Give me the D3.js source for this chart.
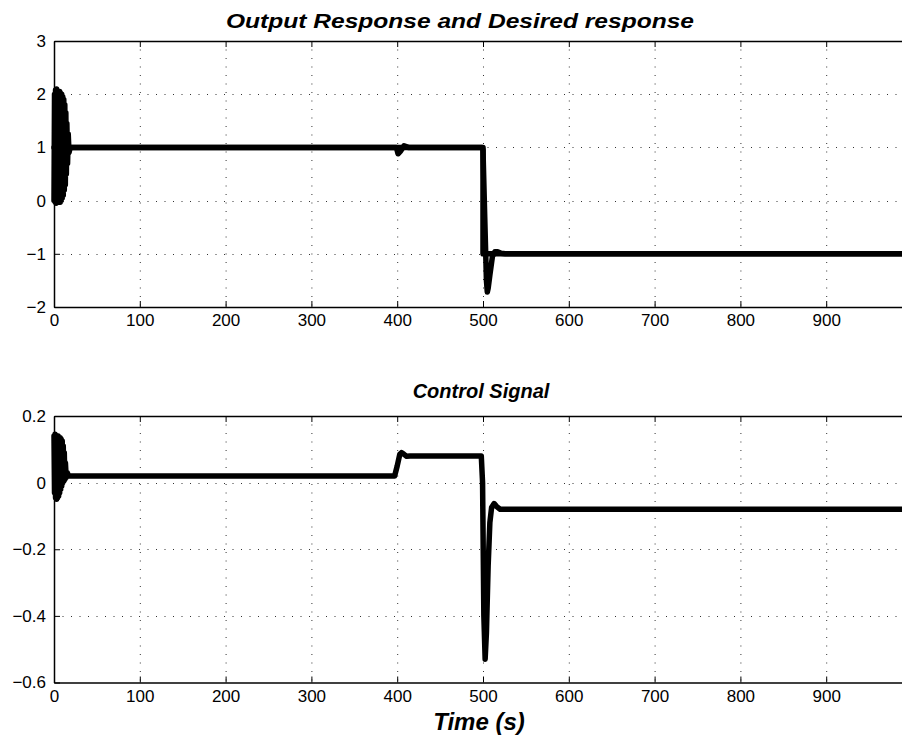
<!DOCTYPE html>
<html>
<head>
<meta charset="utf-8">
<script src="https://cdn.jsdelivr.net/npm/d3@7"></script>
<style>
  body { margin: 0; background: #fff; }
  svg { display: block; }
  text { font-family: Helvetica, "Liberation Sans", Arial, sans-serif; fill: #000; }
</style>
</head>
<body>
<script>
// ---- data ----
var timeTicks = [0, 100, 200, 300, 400, 500, 600, 700, 800, 900, 1000];
var outputTicks = [-2, -1, 0, 1, 2, 3];
var controlTicks = [-0.6, -0.4, -0.2, 0, 0.2];

// desired (reference) square step
var desiredT = [0, 500, 500, 1000];
var desiredY = [1, 1, -1, -1];

// plant output
var outputT = [0, 0.6, 1.2, 1.8, 2.4, 3.0, 3.6, 4.2, 4.8, 5.4, 6.0, 6.6, 7.2, 7.8, 8.4, 9.0,
  9.6, 10.2, 10.8, 11.4, 12.0, 12.6, 13.2, 13.8, 14.4, 15, 15.8, 16.6, 17.5, 19,
  399, 401, 404, 408, 413, 420,
  499, 500, 502, 504, 505, 506, 508, 511, 514, 517, 521, 526, 1000];
var outputY = [0, 2.0, -0.02, 2.08, -0.05, 2.1, 0.0, 2.06, -0.03, 2.05, 0.0, 2.05, -0.03, 2.02,
  0.0, 2.0, 0.05, 1.95, 0.1, 1.9, 0.2, 1.8, 0.3, 1.65, 0.5, 1.45, 0.7, 1.25, 0.9, 1.0,
  1.0, 0.88, 0.93, 1.03, 1.0, 1.0,
  1.0, 0.95, -0.3, -1.5, -1.72, -1.65, -1.4, -1.05, -0.96, -0.96, -0.99, -1.0, -1.0];

// control signal
var controlT = [0, 0.6, 1.2, 1.8, 2.4, 3.0, 3.6, 4.2, 4.8, 5.4, 6.0, 6.6, 7.2, 7.8, 8.4, 9.0,
  9.6, 10.2, 10.8, 11.4, 12.0, 12.6, 13.3, 14.2, 15.5, 17,
  397, 400, 403, 405, 408, 411, 415,
  498, 499.5, 501, 502.5, 504, 506, 508, 510, 513, 516, 520, 1000];
var controlY = [0.14, -0.03, 0.145, -0.045, 0.14, -0.05, 0.14, -0.045, 0.14, -0.04, 0.135,
  -0.03, 0.135, -0.02, 0.13, -0.01, 0.125, 0.0, 0.11, 0.005, 0.09, 0.01, 0.06, 0.015, 0.03, 0.02,
  0.02, 0.05, 0.085, 0.09, 0.085, 0.079, 0.08,
  0.08, 0.0, -0.4, -0.53, -0.45, -0.25, -0.12, -0.075, -0.063, -0.072, -0.08, -0.08];

var W = 902, H = 742;
var left = 54, right = 912;

var svg = d3.select('body').append('svg')
  .attr('width', W)
  .attr('height', H);

var x = d3.scaleLinear().domain([0, 1000]).range([left, right]);

function zip(ts, vs) {
  return ts.map(function(t, i) { return [t, vs[i]]; });
}

/**
 * Draws one MATLAB-style axes box: dotted grid, inward ticks, thick black traces
 */
function drawPanel(cfg) {
  var y = d3.scaleLinear().domain(cfg.domain).range([cfg.bottom, cfg.top]);
  var g = svg.append('g').attr('class', 'panel');

  // dotted grid at interior ticks
  var grid = g.append('g').attr('class', 'grid')
    .attr('stroke', '#333')
    .attr('stroke-width', 1)
    .attr('stroke-dasharray', '1,7.5');
  grid.selectAll('line.gx')
    .data(timeTicks.slice(1))
    .enter().append('line')
    .attr('class', 'gx')
    .attr('x1', function(d) { return x(d) + 0.5; })
    .attr('x2', function(d) { return x(d) + 0.5; })
    .attr('y1', cfg.top)
    .attr('y2', cfg.bottom);
  grid.selectAll('line.gy')
    .data(cfg.ticks.slice(1, -1))
    .enter().append('line')
    .attr('class', 'gy')
    .attr('x1', left)
    .attr('x2', right)
    .attr('y1', function(d) { return Math.round(y(d)) + 0.5; })
    .attr('y2', function(d) { return Math.round(y(d)) + 0.5; });

  // traces
  var line = d3.line()
    .x(function(d) { return x(d[0]); })
    .y(function(d) { return y(d[1]); });
  cfg.series.forEach(function(s) {
    g.append('path')
      .datum(s)
      .attr('fill', 'none')
      .attr('stroke', '#000')
      .attr('stroke-width', 5.5)
      .attr('stroke-linejoin', 'round')
      .attr('stroke-linecap', 'round')
      .attr('d', line);
  });

  // axes (ticks pointing inward)
  var fmt = d3.format('');
  var xb = g.append('g')
    .attr('transform', 'translate(0,' + cfg.bottom + ')')
    .call(d3.axisBottom(x).tickValues(timeTicks).tickSizeInner(-6).tickSizeOuter(0)
      .tickPadding(7).tickFormat(fmt));
  var xt = g.append('g')
    .attr('transform', 'translate(0,' + cfg.top + ')')
    .call(d3.axisTop(x).tickValues(timeTicks).tickSizeInner(-6).tickSizeOuter(0)
      .tickFormat(''));
  var yl = g.append('g')
    .attr('transform', 'translate(' + left + ',0)')
    .call(d3.axisLeft(y).tickValues(cfg.ticks).tickSizeInner(-6).tickSizeOuter(0)
      .tickPadding(8).tickFormat(fmt));
  var yr = g.append('g')
    .attr('transform', 'translate(' + right + ',0)')
    .call(d3.axisRight(y).tickValues(cfg.ticks).tickSizeInner(-6).tickSizeOuter(0)
      .tickFormat(''));

  [xb, xt, yl, yr].forEach(function(a) {
    a.select('.domain').attr('stroke', '#000').attr('stroke-width', 1.5);
    a.selectAll('.tick line').attr('stroke', '#000').attr('stroke-width', 1);
    a.selectAll('.tick text')
      .style('font-family', 'Helvetica, "Liberation Sans", Arial, sans-serif')
      .style('font-size', '17px');
  });
  // the 1000 label falls outside the window, like the reference
  xb.selectAll('.tick text').filter(function(d) { return d === 1000; }).remove();

  var title = g.append('text')
    .attr('x', cfg.titleX)
    .attr('y', cfg.titleY)
    .attr('text-anchor', 'middle')
    .style('font-size', cfg.titleSize)
    .style('font-weight', 'bold')
    .style('font-style', 'italic')
    .text(cfg.title);
  if (cfg.titleWidth) {
    title.attr('textLength', cfg.titleWidth).attr('lengthAdjust', 'spacingAndGlyphs');
  }
}

drawPanel({
  title: 'Output Response and Desired response',
  titleX: 460, titleY: 28, titleSize: '21px', titleWidth: 468,
  domain: [-2, 3],
  ticks: outputTicks,
  top: 41,
  bottom: 307,
  series: [zip(desiredT, desiredY), zip(outputT, outputY)]
});

drawPanel({
  title: 'Control Signal',
  titleX: 481, titleY: 398, titleSize: '20px',
  domain: [-0.6, 0.2],
  ticks: controlTicks,
  top: 416,
  bottom: 682.5,
  series: [zip(controlT, controlY)]
});

svg.append('text')
  .attr('x', 479)
  .attr('y', 730)
  .attr('text-anchor', 'middle')
  .style('font-size', '24px')
  .style('font-weight', 'bold')
  .style('font-style', 'italic')
  .text('Time (s)');
</script>
</body>
</html>
